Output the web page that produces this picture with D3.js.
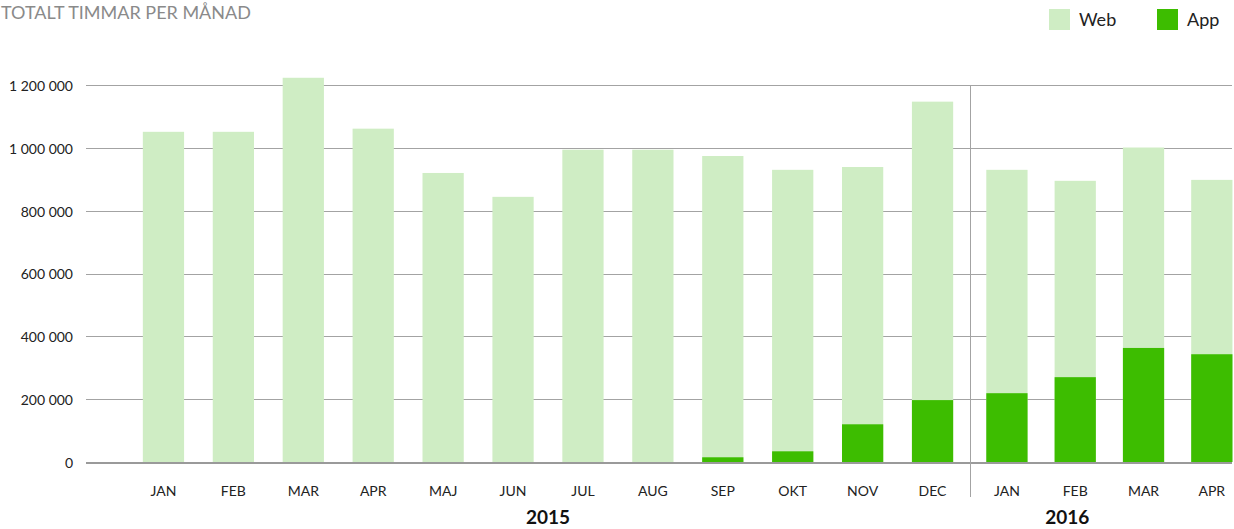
<!DOCTYPE html>
<html>
<head>
<meta charset="utf-8">
<title>Totalt timmar per månad</title>
<style>
  body { margin: 0; background: #fff; font-family: Lato, "Open Sans", sans-serif; }
  svg text { font-family: Lato, "Open Sans", sans-serif; }
</style>
</head>
<body>
<div id="chart"></div>
<script src="https://d3js.org/d3.v7.min.js"></script>
<script>
// data
var months = ["JAN","FEB","MAR","APR","MAJ","JUN","JUL","AUG","SEP","OKT","NOV","DEC","JAN","FEB","MAR","APR"]
var years = ["2015","2015","2015","2015","2015","2015","2015","2015","2015","2015","2015","2015","2016","2016","2016","2016"]
// total height of each bar (web + app)
var totalHours = [1051000,1051000,1223000,1061000,920000,844000,994000,994000,974000,930000,939000,1147000,930000,895000,1001000,898000]
var appHours = [0,0,0,0,0,0,0,0,15000,34000,120000,197000,219000,270000,363000,343000]
var yTicks = [0,200000,400000,600000,800000,1000000,1200000]
var seriesNames = ["Web","App"]

var W = 1234, H = 529
var webColor = "#cfedc4", appColor = "#3dbd00"

var svg = d3.select("#chart").append("svg")
    .attr("width", W)
    .attr("height", H)

var data = months.map(function(m, i) {
  return { key: i, month: m, year: years[i], total: totalHours[i], app: appHours[i] }
})

var y = d3.scaleLinear()
  .domain([0, 1200000])
  .range([462, 85])

// each year gets its own band scale (the chart is cropped on the right)
var yearRange = { "2015": [128.5, 967.5], "2016": [972.3, 1245.5] }
var xYear = {}
d3.groups(data, function(d) { return d.year }).forEach(function(g) {
  xYear[g[0]] = d3.scaleBand()
    .domain(g[1].map(function(d) { return d.key }))
    .range(yearRange[g[0]])
    .paddingInner(0.41)
    .paddingOuter(0.205)
})
function xPos(d) { return xYear[d.year](d.key) }
var bw = xYear["2015"].bandwidth()

// title
svg.append("text")
  .attr("x", 1)
  .attr("y", 19)
  .style("font-size", "18px")
  .style("fill", "#8a8a8a")
  .text("TOTALT TIMMAR PER MÅNAD")

// grid lines
svg.append("g")
  .selectAll("line")
  .data(yTicks.filter(function(t) { return t > 0 }))
  .enter().append("line")
    .attr("x1", 86).attr("x2", 1232)
    .attr("y1", function(d) { return Math.round(y(d)) + 0.5 })
    .attr("y2", function(d) { return Math.round(y(d)) + 0.5 })
    .style("stroke", "#a3a3a3")
    .style("stroke-width", 1)

// y axis labels
var fmt = d3.formatLocale({ decimal: ",", thousands: " ", grouping: [3], currency: ["", ""] }).format(",d")
var yAxis = svg.append("g")
  .attr("transform", "translate(73,1)")
  .call(d3.axisLeft(y).tickValues(yTicks).tickSize(0).tickPadding(0).tickFormat(fmt))
yAxis.select(".domain").remove()
yAxis.selectAll("text")
  .style("font-size", "14px")
  .style("fill", "#222")
  .style("font-family", "Lato, sans-serif")

// web (full bar) and app stacked on bottom
svg.append("g").selectAll("rect")
  .data(data)
  .enter().append("rect")
    .attr("x", xPos)
    .attr("width", bw)
    .attr("y", function(d) { return y(d.total) })
    .attr("height", function(d) { return y(0) - y(d.total) })
    .style("fill", webColor)

svg.append("g").selectAll("rect")
  .data(data.filter(function(d) { return d.app > 0 }))
  .enter().append("rect")
    .attr("x", xPos)
    .attr("width", bw)
    .attr("y", function(d) { return y(d.app) })
    .attr("height", function(d) { return y(0) - y(d.app) })
    .style("fill", appColor)

// baseline
svg.append("line")
  .attr("x1", 86).attr("x2", 1232)
  .attr("y1", y(0) + 1).attr("y2", y(0) + 1)
  .style("stroke", "#9a9a9a")
  .style("stroke-width", 2)

// year separator
var sepX = Math.round((yearRange["2015"][1] + yearRange["2016"][0]) / 2) + 0.5
svg.append("line")
  .attr("x1", sepX).attr("x2", sepX)
  .attr("y1", y(1200000)).attr("y2", 497)
  .style("stroke", "#a3a3a3")
  .style("stroke-width", 1)

// month labels
svg.append("g").selectAll("text")
  .data(data)
  .enter().append("text")
    .attr("x", function(d) { return xPos(d) + bw / 2 })
    .attr("y", 496)
    .attr("text-anchor", "middle")
    .style("font-size", "14px")
    .style("fill", "#222")
    .text(function(d) { return d.month })

// year labels
var y2015 = xYear["2015"]
var y2016 = xYear["2016"]
var yearLabels = [
  { text: "2015", x: (y2015.range()[0] + y2015.range()[1]) / 2 },
  { text: "2016", x: (sepX + y2016(14) + bw) / 2 }
]
svg.append("g").selectAll("text")
  .data(yearLabels)
  .enter().append("text")
    .attr("x", function(d) { return d.x })
    .attr("y", 524)
    .attr("text-anchor", "middle")
    .style("font-size", "19px")
    .style("font-weight", "bold")
    .style("fill", "#111")
    .text(function(d) { return d.text })

// legend
var legendX = [1049, 1157]
var legend = svg.append("g").selectAll("g")
  .data(seriesNames)
  .enter().append("g")
    .attr("transform", function(d, i) { return "translate(" + legendX[i] + ",9)" })
legend.append("rect")
  .attr("width", 21).attr("height", 21)
  .style("fill", function(d, i) { return i == 0 ? webColor : appColor })
legend.append("text")
  .attr("x", 30)
  .attr("y", 11)
  .attr("dy", "0.35em")
  .style("font-size", "18px")
  .style("fill", "#222")
  .text(function(d) { return d })
</script>
</body>
</html>
